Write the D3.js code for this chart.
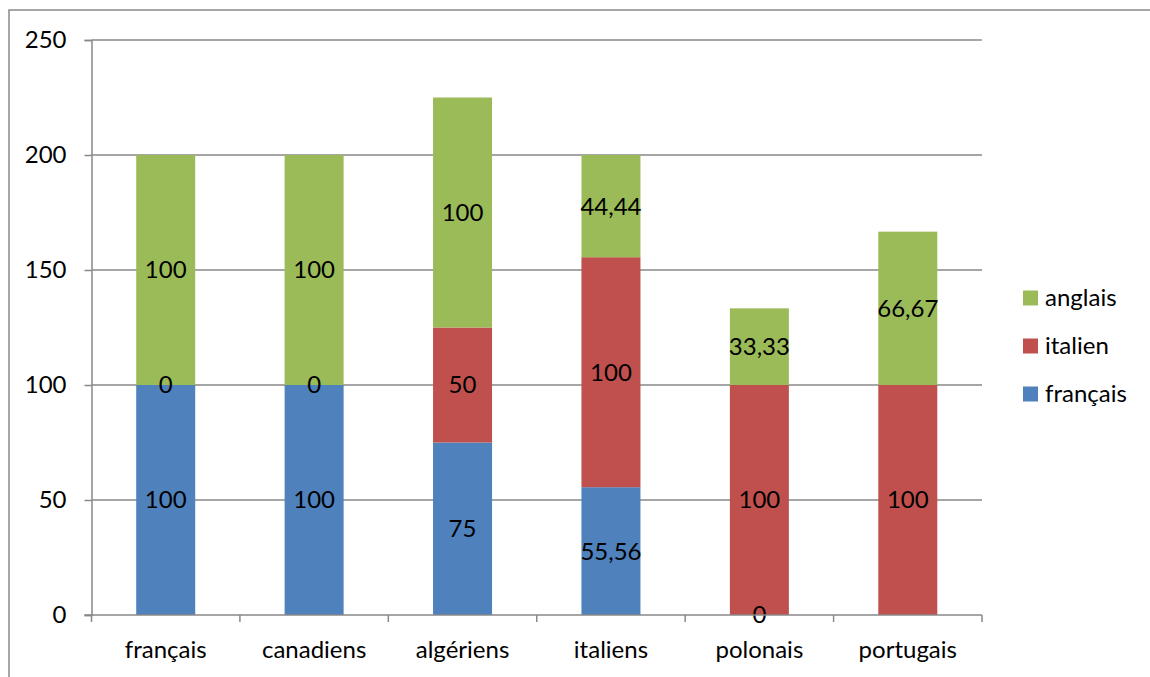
<!DOCTYPE html>
<html>
<head>
<meta charset="utf-8">
<script src="https://cdn.jsdelivr.net/npm/d3@7"></script>
<style>
  html, body { margin: 0; padding: 0; background: #fff; }
  svg text { font-family: Lato, "Open Sans", sans-serif; fill: #000; }
</style>
</head>
<body>
<svg id="chart" width="1150" height="677"></svg>
<script>
// Categories (groups) and stacked series values
const categories = ["français", "canadiens", "algériens", "italiens", "polonais", "portugais"];
const seriesNames = ["français", "italien", "anglais"];
const francaisValues = [100, 100, 75, 55.56, 0, null];
const italienValues = [0, 0, 50, 100, 100, 100];
const anglaisValues = [100, 100, 100, 44.44, 33.33, 66.67];
const yTicks = [0, 50, 100, 150, 200, 250];
const colors = { "français": "#4F81BD", "italien": "#C0504D", "anglais": "#9BBB59" };

const seriesValues = [francaisValues, italienValues, anglaisValues];

const svg = d3.select("#chart");
const margin = { left: 91.5, right: 168, top: 40, bottom: 62 };
const W = 1150, H = 677;
const innerW = W - margin.left - margin.right;
const innerH = H - margin.top - margin.bottom;
const fontSize = 24;

// outer chart border
svg.append("rect")
  .attr("x", 9).attr("y", 10)
  .attr("width", 1200).attr("height", 800)
  .attr("fill", "none").attr("stroke", "#898989").attr("stroke-width", 1.5);

const xOuter = d3.scaleBand().domain(categories).range([margin.left, margin.left + innerW]);
const y = d3.scaleLinear().domain([0, 250]).range([margin.top + innerH, margin.top]);

// horizontal gridlines
svg.append("g").selectAll("line").data(yTicks.filter(t => t > 0)).join("line")
  .attr("x1", margin.left).attr("x2", margin.left + innerW)
  .attr("y1", d => y(d)).attr("y2", d => y(d))
  .attr("stroke", "#898989").attr("stroke-width", 1.5);

// stack data
const rows = categories.map((c, i) => {
  const r = { cat: c };
  seriesNames.forEach((s, k) => { r[s] = seriesValues[k][i]; });
  return r;
});
const stack = d3.stack().keys(seriesNames).value((d, k) => d[k] == null ? 0 : d[k]);
const stacked = stack(rows);

const barW = 59;
const gBars = svg.append("g");
stacked.forEach(layer => {
  gBars.append("g").selectAll("rect").data(layer).join("rect")
    .attr("x", d => xOuter(d.data.cat) + xOuter.bandwidth() / 2 - barW / 2)
    .attr("width", barW)
    .attr("y", d => y(d[1]))
    .attr("height", d => y(d[0]) - y(d[1]))
    .attr("fill", colors[layer.key]);
});

// data labels
const fmt = v => String(v).replace(".", ",");
const gLabels = svg.append("g");
stacked.forEach(layer => {
  gLabels.append("g").selectAll("text").data(layer.filter(d => d.data[layer.key] != null)).join("text")
    .attr("x", d => xOuter(d.data.cat) + xOuter.bandwidth() / 2)
    .attr("y", d => (y(d[0]) + y(d[1])) / 2)
    .attr("dy", "0.35em")
    .attr("text-anchor", "middle")
    .attr("font-size", fontSize)
    .text(d => fmt(d.data[layer.key]));
});

// y axis
const yAxis = d3.axisLeft(y).tickValues(yTicks).tickSize(7).tickPadding(18);
const gy = svg.append("g").attr("transform", `translate(${margin.left},0)`).call(yAxis);
gy.select(".domain").attr("stroke", "#898989").attr("stroke-width", 1.5);
gy.selectAll(".tick line").attr("stroke", "#898989").attr("stroke-width", 1.5);
gy.selectAll(".tick text").attr("font-size", fontSize).attr("font-family", "Lato, sans-serif").attr("fill", "#000");

// x axis with ticks at category boundaries
const baseY = y(0);
svg.append("line").attr("x1", margin.left - 7).attr("x2", margin.left + innerW)
  .attr("y1", baseY).attr("y2", baseY).attr("stroke", "#898989").attr("stroke-width", 1.5);
const bounds = categories.map(c => xOuter(c)).concat([margin.left + innerW]);
svg.append("g").selectAll("line").data(bounds).join("line")
  .attr("x1", d => d).attr("x2", d => d)
  .attr("y1", baseY).attr("y2", baseY + 7)
  .attr("stroke", "#898989").attr("stroke-width", 1.5);
svg.append("g").selectAll("text").data(categories).join("text")
  .attr("x", d => xOuter(d) + xOuter.bandwidth() / 2)
  .attr("y", baseY + 43)
  .attr("text-anchor", "middle")
  .attr("font-size", fontSize)
  .text(d => d);

// legend (top to bottom: anglais, italien, français)
const legendItems = seriesNames.slice().reverse();
const lg = svg.append("g").selectAll("g").data(legendItems).join("g")
  .attr("transform", (d, i) => `translate(1023, ${298 + i * 48})`);
lg.append("rect").attr("x", 0).attr("y", -7.5).attr("width", 15).attr("height", 15)
  .attr("fill", d => colors[d]);
lg.append("text").attr("x", 22).attr("dy", "0.35em").attr("font-size", fontSize).text(d => d);
</script>
</body>
</html>
